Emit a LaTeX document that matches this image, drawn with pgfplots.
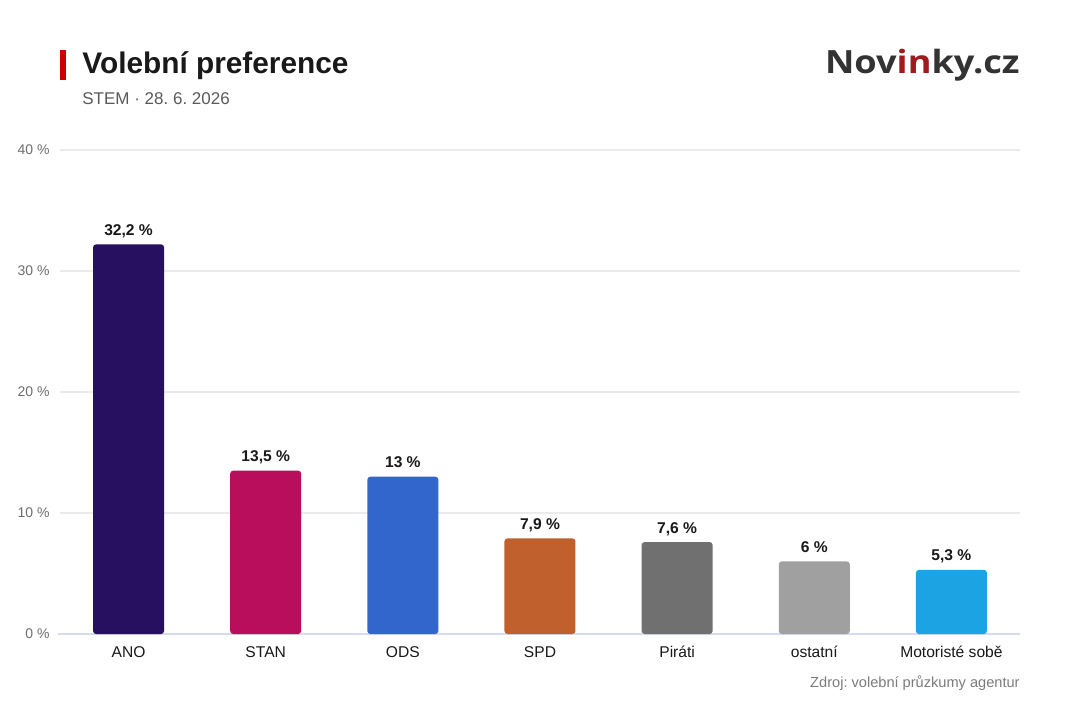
\documentclass[border=0pt]{standalone}
\usepackage{pgfplots}
\pgfplotsset{compat=1.18}
\usepackage{fontspec}
\setmainfont{Liberation Sans}
\newfontfamily\logofont{Open Sans}
\definecolor{cANO}{RGB}{40,16,96}
\definecolor{cSTAN}{RGB}{185,14,92}
\definecolor{cODS}{RGB}{51,102,204}
\definecolor{cSPD}{RGB}{192,96,45}
\definecolor{cPIR}{RGB}{112,112,112}
\definecolor{cOST}{RGB}{160,160,160}
\definecolor{cMOT}{RGB}{28,163,227}
\definecolor{gridc}{RGB}{235,235,235}
\definecolor{zeroc}{RGB}{214,220,235}
\definecolor{tickc}{RGB}{110,110,110}
\definecolor{titlec}{RGB}{25,25,25}
\definecolor{subc}{RGB}{90,90,90}
\definecolor{logoc}{RGB}{51,51,51}
\definecolor{logored}{RGB}{158,27,30}
\definecolor{redbar}{RGB}{204,0,0}
\begin{document}
\frenchspacing
\begin{tikzpicture}
\path[use as bounding box, fill=white] (0,0) rectangle (540pt,360pt);
\fill[redbar] (30pt,335pt) rectangle (33pt,320pt);
\node[anchor=base west, inner sep=0pt, text=titlec, font=\bfseries\fontsize{14.9}{16}\selectfont] at (41pt,323.5pt) {Volební preference};
\node[anchor=base west, inner sep=0pt, text=subc, font=\fontsize{8.5}{10}\selectfont] at (41pt,308pt) {STEM · 28. 6. 2026};
\node[anchor=base east, inner sep=0pt, text=logoc, font=\logofont\bfseries\fontsize{16}{18}\selectfont] at (510pt,323.5pt) {\scalebox{1.13}[1]{Nov\textcolor{logored}{in}ky.cz}};
\node[anchor=base east, inner sep=0pt, text=tickc!90, font=\fontsize{7.3}{8}\selectfont] at (510pt,16.5pt) {Zdroj: volební průzkumy agentur};
\begin{axis}[
  at={(30pt,43pt)}, anchor=south west,
  width=480pt, height=242pt, scale only axis,
  xmin=-0.5, xmax=6.5, ymin=0, ymax=40,
  ytick={0,10,20,30,40},
  xtick={0,1,2,3,4,5,6},
  xticklabels={ANO,STAN,ODS,SPD,Piráti,ostatní,Motoristé sobě},
  axis line style={draw=none},
  major tick length=0pt,
  ymajorgrids, grid style={gridc, line width=0.6pt},
  /pgf/number format/assume math mode=true,
  yticklabel={\pgfmathprintnumber{\tick}~\%},
  yticklabel style={anchor=east, inner sep=0pt, xshift=-5pt, text=tickc, font=\fontsize{7}{8}\selectfont},
  xticklabel style={anchor=base, inner sep=0pt, yshift=-11.5pt, text=titlec, font=\fontsize{7.8}{9}\selectfont},
  nodes near coords={\pgfmathprintnumber[use comma]{\pgfplotspointmeta}~\%},
  nodes near coords style={font=\bfseries\fontsize{7.8}{9}\selectfont, text=titlec, anchor=base, yshift=4.5pt, inner sep=0pt},
  every axis plot/.append style={ybar, bar width=35.5pt, bar shift=0pt, draw=none, rounded corners=1.5pt},
  clip=false,
]
\draw[zeroc, line width=0.8pt] (axis cs:-0.515,0) -- (axis cs:6.5,0);
\addplot[fill=cANO] coordinates {(0,32.2)};
\addplot[fill=cSTAN] coordinates {(1,13.5)};
\addplot[fill=cODS] coordinates {(2,13)};
\addplot[fill=cSPD] coordinates {(3,7.9)};
\addplot[fill=cPIR] coordinates {(4,7.6)};
\addplot[fill=cOST] coordinates {(5,6)};
\addplot[fill=cMOT] coordinates {(6,5.3)};
\end{axis}
\end{tikzpicture}
\end{document}
